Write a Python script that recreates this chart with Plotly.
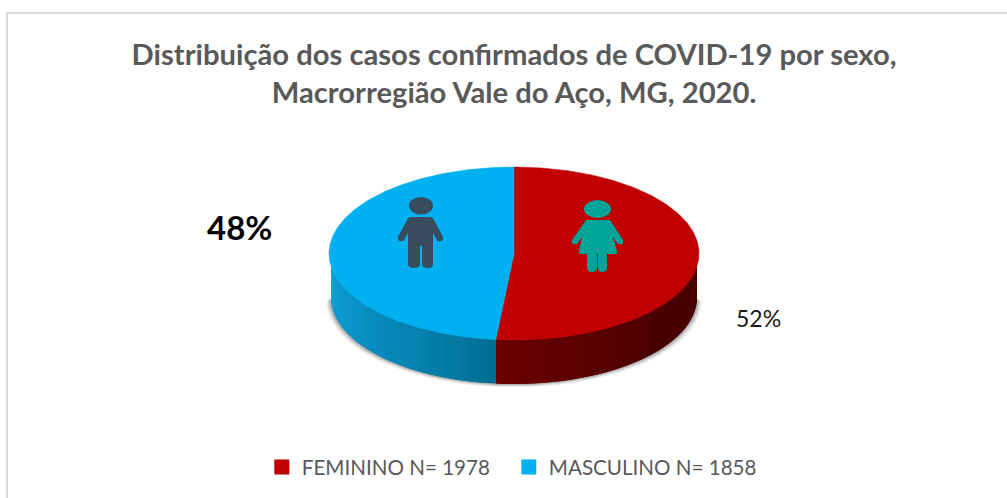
import math
import plotly.graph_objects as go

categories = ["FEMININO N= 1978", "MASCULINO N= 1858"]
values = [1978, 1858]
colors = ["#C00000", "#00B0F0"]
title_lines = ["Distribuição dos casos confirmados de COVID-19 por sexo,",
               "Macrorregião Vale do Aço, MG, 2020."]

CX, CY, RX, RY, DEPTH = 514.0, 253.5, 185.0, 86.5, 44.0
WALL_RX = 183.0
total = sum(values)
split = 360.0 * values[0] / total


def top_pt(deg, rx=RX):
    t = math.radians(deg)
    return CX + rx * math.sin(t), CY - RY * math.cos(t)


def bot_pt(deg, rx=WALL_RX):
    t = math.radians(deg)
    return CX + rx * math.sin(t), CY + DEPTH - RY * math.cos(t)


def mix(c1, c2, f):
    return "#%02x%02x%02x" % tuple(round(a + (b - a) * f) for a, b in zip(c1, c2))


def wall_colour(deg):
    if deg < split:
        f = min(1.0, max(0.0, (split - deg) / 55.0))
        return mix((0x6c, 0, 0), (0x4a, 0, 0), f)
    f = (deg - split) / (270.0 - split)
    return mix((0x00, 0x6c, 0x90), (0x0d, 0xa2, 0xdc), f ** 0.8)


fig = go.Figure()

# soft shadow under the wall
for grow, op in [(5, 0.05), (4, 0.07), (3, 0.09), (2, 0.12), (1, 0.16)]:
    degs = [90 + i * 2 for i in range(91)]
    xs = [bot_pt(d, WALL_RX + grow)[0] for d in degs]
    ys = [bot_pt(d, WALL_RX + grow)[1] + grow * 0.7 for d in degs]
    fig.add_trace(go.Scatter(x=xs, y=ys, mode="lines", fill="toself", line=dict(width=0),
                             fillcolor=f"rgba(40,40,40,{op})", hoverinfo="skip", showlegend=False))


def add_strips(lo, hi, count):
    # each strip overlaps the next so that no seam shows
    for i in range(count):
        a = lo + (hi - lo) * i / count
        b = lo + (hi - lo) * (i + 1) / count
        end = min(hi, b + (hi - lo) / count)
        ds = [a + (end - a) * k / 4 for k in range(5)]
        xs = [top_pt(d, WALL_RX)[0] for d in ds] + [bot_pt(d)[0] for d in reversed(ds)]
        ys = [top_pt(d, WALL_RX)[1] for d in ds] + [bot_pt(d)[1] for d in reversed(ds)]
        c = wall_colour((a + b) / 2)
        fig.add_trace(go.Scatter(x=xs, y=ys, mode="lines", fill="toself", fillcolor=c,
                                 line=dict(width=0), hoverinfo="skip", showlegend=False))


add_strips(90, split, 32)
add_strips(split, 270, 30)

# top face, one sector per category
start = 0.0
for val, col in zip(values, colors):
    sweep = 360.0 * val / total
    steps = 240
    ds = [start + sweep * k / steps for k in range(steps + 1)]
    xs = [CX] + [top_pt(d)[0] for d in ds] + [CX]
    ys = [CY] + [top_pt(d)[1] for d in ds] + [CY]
    fig.add_trace(go.Scatter(x=xs, y=ys, mode="lines", fill="toself", fillcolor=col,
                             line=dict(color=col, width=0.5), hoverinfo="skip", showlegend=False))
    start += sweep

# legend entries
for name, col in zip(categories, colors):
    fig.add_trace(go.Scatter(x=[None], y=[None], mode="markers", name=name,
                             marker=dict(symbol="square", size=15, color=col)))

shapes = [
    dict(type="path", path="M7,498 L7,13 L1007,13", line=dict(color="#D9D9D9", width=2), layer="below"),
    # man icon
    dict(type="circle", x0=409, x1=433, y0=197, y1=214.5, fillcolor="#384C5E", line_width=0),
    dict(type="path",
         path="M411,217 L430,217 Q433,217 434,220 L443,237 Q444,240 441,241 Q438,242 437,240 L433,233 "
              "L433,264 Q433,268 428,268 Q422,268 422,264 L422,246 L420,246 L420,264 Q420,268 414,268 "
              "Q408,268 408,264 L408,233 L404,240 Q403,242 400,241 Q397,240 398,237 L407,220 Q408,217 411,217 Z",
         fillcolor="#384C5E", line_width=0),
    # woman icon
    dict(type="circle", x0=584, x1=611, y0=200, y1=218, fillcolor="#00A398", line_width=0),
    dict(type="path",
         path="M586,220 L610,220 L623,240 Q624,243 622,244 Q619,245 617,243 L613,237 L617,251 Q618,254 615,254 "
              "L607,254 L607,268 Q607,272 602,272 Q598,272 598,268 L598,254 L597,254 L597,268 Q597,272 592,272 "
              "Q587,272 587,268 L587,254 L581,254 Q578,254 579,251 L582,237 L578,243 Q576,245 573,244 Q571,243 572,240 Z",
         fillcolor="#00A398", line_width=0),
]

annotations = [
    dict(x=239, y=227, text="<b>48%</b>", showarrow=False, font=dict(size=33, color="#000000", family="Lato")),
    dict(x=758, y=318, text="52%", showarrow=False, font=dict(size=23, color="#1a1a1a", family="Lato")),
]

fig.update_layout(
    width=1007, height=498, margin=dict(l=0, r=0, t=0, b=0),
    paper_bgcolor="white", plot_bgcolor="white",
    xaxis=dict(range=[0, 1007], visible=False, fixedrange=True),
    yaxis=dict(range=[498, 0], visible=False, fixedrange=True),
    title=dict(text="<br>".join(title_lines), x=0.5105, xanchor="center", y=0.869, yanchor="middle",
               font=dict(size=29.2, color="#595959", family="Lato", weight="bold")),
    legend=dict(orientation="h", x=0.26, xanchor="left", y=0.022, yanchor="bottom",
                font=dict(size=20.6, color="#595959", family="Lato"), bgcolor="rgba(0,0,0,0)",
                itemsizing="trace", entrywidth=202, entrywidthmode="pixels"),
    shapes=shapes, annotations=annotations,
)
fig.write_html("out.html", config={"displayModeBar": False},
               post_script="document.body.style.margin='0';document.body.style.overflow='hidden';")
